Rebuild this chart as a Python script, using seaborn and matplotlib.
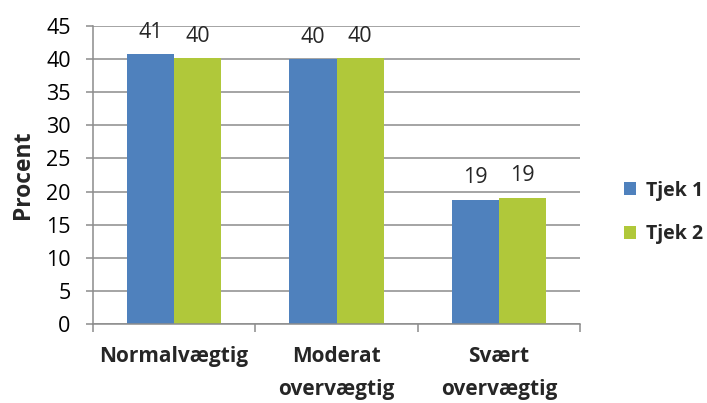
import matplotlib
matplotlib.use("Agg")
import matplotlib.pyplot as plt
import seaborn as sns
import pandas as pd

categories = ["Normalvægtig", "Moderat\novervægtig", "Svært\novervægtig"]
series_names = ["Tjek 1", "Tjek 2"]
tjek1 = [40.8, 40.0, 18.8]
tjek2 = [40.2, 40.1, 19.1]
y_ticks = [0, 5, 10, 15, 20, 25, 30, 35, 40, 45]

df = pd.DataFrame({
    "Kategori": categories * 2,
    "Serie": [series_names[0]] * 3 + [series_names[1]] * 3,
    "Procent": tjek1 + tjek2,
})

sns.set_style("white")
plt.rcParams["font.family"] = ["Open Sans", "DejaVu Sans"]

fig = plt.figure(figsize=(7.07, 4.03), dpi=100)
ax = fig.add_axes([0.1315, 0.196, 0.689, 0.7395])

palette = {"Tjek 1": "#4F81BD", "Tjek 2": "#B0C83A"}
sns.barplot(data=df, x="Kategori", y="Procent", hue="Serie", palette=palette,
            width=0.58, gap=0, saturation=1, ax=ax, errorbar=None,
            order=categories, hue_order=series_names, linewidth=0)

ax.set_xlim(-0.5, 2.5)
ax.set_ylim(0, 45)
ax.set_yticks(y_ticks)
ax.yaxis.grid(True, color="#8C8C8C", linewidth=1.1)
ax.set_axisbelow(True)

for s in ["top", "right"]:
    ax.spines[s].set_visible(False)
for s in ["left", "bottom"]:
    ax.spines[s].set_color("#8C8C8C")
    ax.spines[s].set_linewidth(1.1)

ax.tick_params(axis="y", which="major", left=True, length=5, width=1.1,
               color="#8C8C8C", labelsize=15.5, pad=11, labelcolor="black")
ax.set_xticks(range(len(categories)))
ax.set_xticklabels(categories, fontsize=15, fontweight="bold", linespacing=1.75,
                   va="top")
ax.tick_params(axis="x", which="major", length=0, pad=16)
ax.set_xticks([-0.5, 0.5, 1.5, 2.5], minor=True)
ax.tick_params(axis="x", which="minor", bottom=True, length=6, width=1.1,
               color="#8C8C8C")

ax.set_xlabel("")
ax.set_ylabel("Procent", fontsize=16.5, fontweight="bold", labelpad=8)

for cont in ax.containers:
    ax.bar_label(cont, labels=[f"{v:.0f}" for v in cont.datavalues],
                 padding=8, fontsize=15.5)

handles, labels = ax.get_legend_handles_labels()
ax.legend(handles, labels, loc="center left", bbox_to_anchor=(0.882, 0.473),
          bbox_transform=fig.transFigure, frameon=False,
          prop={"weight": "bold", "size": 14},
          handlelength=0.65, handleheight=0.65, handletextpad=0.5,
          labelspacing=1.2, borderaxespad=0, borderpad=0)

fig.savefig("out.png", dpi=100)
